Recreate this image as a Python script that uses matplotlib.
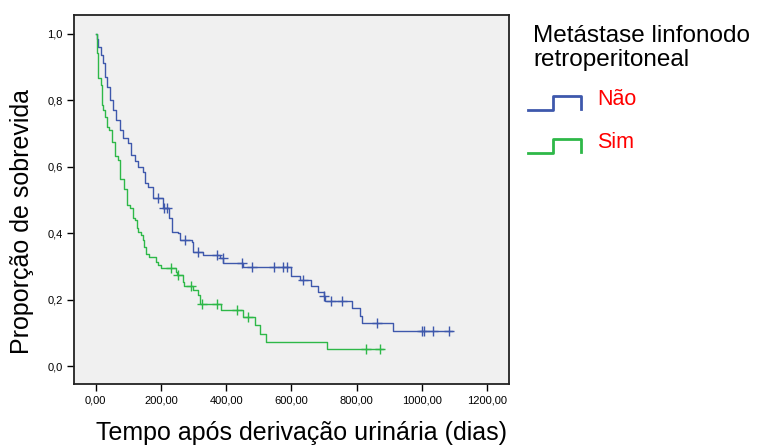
import matplotlib
matplotlib.use("Agg")
import matplotlib.pyplot as plt
import numpy as np
from matplotlib.lines import Line2D

plt.rcParams["font.family"] = ["Liberation Sans", "DejaVu Sans"]

# Kaplan-Meier estimates: time of each drop (days) and survival after it
nao_times = [0, 3, 8, 15, 21, 28, 35, 44, 54, 62, 74, 85, 99, 107, 120, 130,
             146, 151, 161, 175, 207, 225, 233, 253, 258, 294, 299, 330, 381,
             391, 452, 598, 626, 659, 682, 700, 703, 785, 810, 815, 910]
nao_surv = [1.0, 0.985, 0.962, 0.937, 0.913, 0.869, 0.841, 0.801, 0.771, 0.741,
            0.711, 0.688, 0.673, 0.636, 0.616, 0.600, 0.585, 0.551, 0.540,
            0.507, 0.475, 0.445, 0.405, 0.400, 0.380, 0.374, 0.344, 0.334,
            0.324, 0.311, 0.299, 0.271, 0.259, 0.241, 0.224, 0.212, 0.196,
            0.174, 0.151, 0.130, 0.105]
nao_censored = [192, 210, 217, 274, 314, 371, 389, 447, 480, 546, 575, 585,
                635, 700, 720, 756, 861, 1000, 1007, 1035, 1083]
nao_last = 1093

sim_times = [0, 3, 5, 8, 15, 18, 23, 28, 34, 42, 49, 59, 69, 74, 87, 95, 105,
             113, 120, 126, 130, 138, 144, 148, 154, 164, 185, 192, 199, 246,
             250, 267, 271, 299, 314, 320, 384, 452, 488, 504, 521, 708]
sim_surv = [1.0, 0.975, 0.942, 0.867, 0.846, 0.786, 0.771, 0.751, 0.721, 0.711,
            0.676, 0.633, 0.620, 0.562, 0.532, 0.485, 0.475, 0.445, 0.440,
            0.417, 0.405, 0.395, 0.380, 0.359, 0.337, 0.327, 0.314, 0.304,
            0.294, 0.283, 0.274, 0.254, 0.241, 0.229, 0.214, 0.187, 0.169,
            0.148, 0.123, 0.096, 0.073, 0.050]
sim_censored = [231, 253, 291, 325, 371, 432, 466, 828, 871]
sim_last = 880

groups = ["Não", "Sim"]
colors = ["#3e58ac", "#2eb848"]

xticks = [0, 200, 400, 600, 800, 1000, 1200]
yticks = [0.0, 0.2, 0.4, 0.6, 0.8, 1.0]


def draw_km(ax, times, surv, censored, last, color):
    times = np.asarray(times, dtype=float)
    surv = np.asarray(surv, dtype=float)
    tt = np.append(times, last)
    ss = np.append(surv, surv[-1])
    ax.step(tt, ss, where="post", color=color, lw=1.0)
    idx = np.searchsorted(times, censored, side="right") - 1
    ax.plot(censored, surv[idx], ls="none", marker="+", ms=7, mew=1.0,
            color=color)


W, H = 767, 446
fig = plt.figure(figsize=(W / 100, H / 100), dpi=100)
fig.patch.set_facecolor("white")
ax = fig.add_axes([74 / W, 1 - 384 / H, (509 - 74) / W, (384 - 15) / H])
ax.set_facecolor("#f0f0f0")

draw_km(ax, nao_times, nao_surv, nao_censored, nao_last, colors[0])
draw_km(ax, sim_times, sim_surv, sim_censored, sim_last, colors[1])

ax.set_xlim(-66.5, 1266.6)
ax.set_ylim(-0.054, 1.057)
ax.set_xticks(xticks)
ax.set_xticklabels([f"{v:.2f}".replace(".", ",") for v in xticks])
ax.set_yticks(yticks)
ax.set_yticklabels([f"{v:.1f}".replace(".", ",") for v in yticks])
ax.tick_params(direction="out", length=5, width=1, labelsize=8,
               colors="black", pad=3)
for sp in ax.spines.values():
    sp.set_linewidth(1.3)
    sp.set_color("#222222")

fig.text(302 / W, 1 - 440 / H, "Tempo após derivação urinária (dias)",
         ha="center", va="baseline", fontsize=18)
fig.text(22 / W, 1 - 222 / H, "Proporção de sobrevida", rotation=90,
         ha="center", va="center", fontsize=18)

# legend drawn beside the axes
fig.text(533 / W, 1 - 41.5 / H, "Metástase linfonodo", ha="left",
         va="baseline", fontsize=17.5)
fig.text(533 / W, 1 - 66 / H, "retroperitoneal", ha="left",
         va="baseline", fontsize=17.5)
for i, (name, col) in enumerate(zip(groups, colors)):
    y0 = 110 + i * 43
    xs = np.array([528, 553, 553, 581, 581]) / W
    ys = 1 - np.array([y0, y0, y0 - 14, y0 - 14, y0 - 1]) / H
    fig.add_artist(Line2D(xs, ys, color=col, lw=2.0))
    fig.text(597 / W, 1 - (y0 - 5) / H, name, color="#ff0000",
             ha="left", va="baseline", fontsize=15.5)

fig.savefig("out.png", dpi=100)
